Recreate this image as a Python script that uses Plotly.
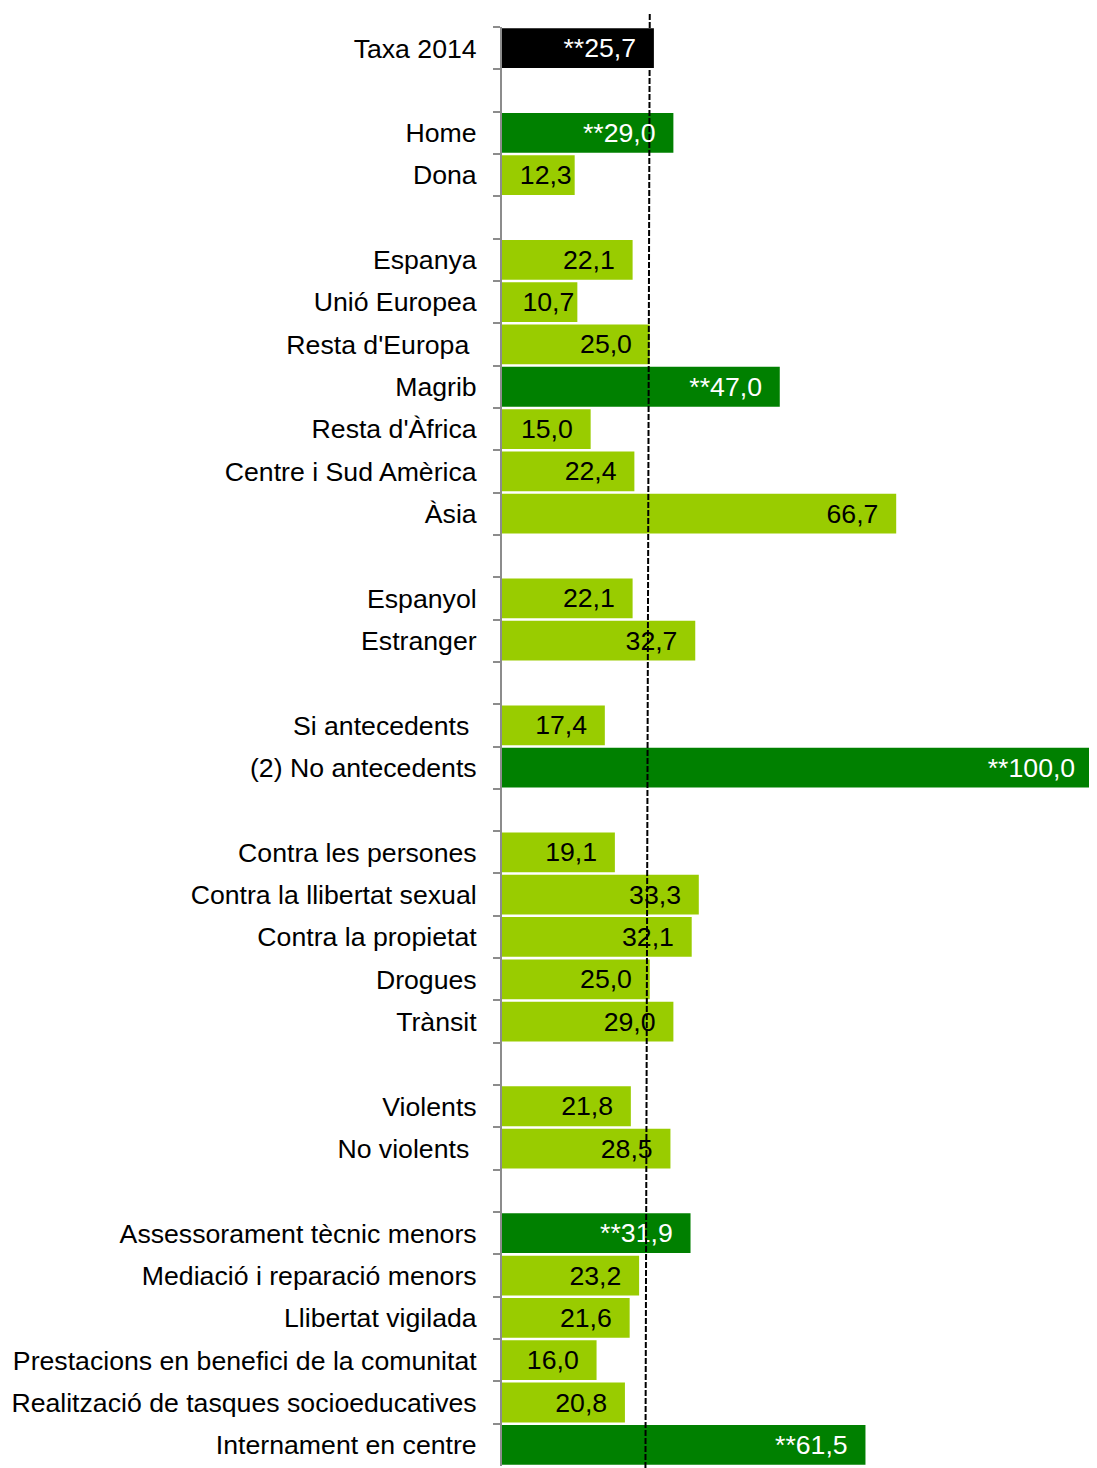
import plotly.graph_objects as go

# ---- data ----
taxa_labels = ["Taxa 2014"]
taxa_values = [25.7]

sexe_labels = ["Home", "Dona"]
sexe_values = [29.0, 12.3]

origen_labels = ["Espanya", "Unió Europea", "Resta d'Europa\u00a0", "Magrib",
                 "Resta d'Àfrica", "Centre i Sud Amèrica", "Àsia"]
origen_values = [22.1, 10.7, 25.0, 47.0, 15.0, 22.4, 66.7]

nacionalitat_labels = ["Espanyol", "Estranger"]
nacionalitat_values = [22.1, 32.7]

antecedents_labels = ["Si antecedents\u00a0", "(2) No antecedents"]
antecedents_values = [17.4, 100.0]

delicte_labels = ["Contra les persones", "Contra la llibertat sexual",
                  "Contra la propietat", "Drogues", "Trànsit"]
delicte_values = [19.1, 33.3, 32.1, 25.0, 29.0]

violencia_labels = ["Violents", "No violents\u00a0"]
violencia_values = [21.8, 28.5]

mesura_labels = ["Assessorament tècnic menors", "Mediació i reparació menors",
                 "Llibertat vigilada", "Prestacions en benefici de la comunitat",
                 "Realització de tasques socioeducatives", "Internament en centre"]
mesura_values = [31.9, 23.2, 21.6, 16.0, 20.8, 61.5]

# in the source picture the "Unió Europea" bar is drawn longer than its 10,7 label
bar_length_override = {"Unió Europea": 12.75}

# categories marked with ** (statistically significant difference)
significant = ["Taxa 2014", "Home", "Magrib", "(2) No antecedents",
               "Assessorament tècnic menors", "Internament en centre"]

# dashed reference line (slightly slanted in the original), top and bottom x values
ref_line_top = 25.0
ref_line_bottom = 24.27

groups = [
    (taxa_labels, taxa_values),
    (sexe_labels, sexe_values),
    (origen_labels, origen_values),
    (nacionalitat_labels, nacionalitat_values),
    (antecedents_labels, antecedents_values),
    (delicte_labels, delicte_values),
    (violencia_labels, violencia_values),
    (mesura_labels, mesura_values),
]

# ---- build category list with blank separator rows ----
LIGHT = "#99CC00"
DARK = "#008000"
BLACK = "#000000"

cats, xs, texts, colors, tcolors = [], [], [], [], []
for gi, (labs, vals) in enumerate(groups):
    if gi > 0:
        cats.append("\u00a0" * gi)  # unique blank category as spacer
        xs.append(None)
        texts.append("")
        colors.append(LIGHT)
        tcolors.append("black")
    for lab, v in zip(labs, vals):
        cats.append(lab)
        xs.append(bar_length_override.get(lab, v))
        s = f"{v:.1f}".replace(".", ",")
        if lab in significant:
            s = "**" + s
            colors.append(BLACK if lab == "Taxa 2014" else DARK)
            tcolors.append("white")
        else:
            colors.append(LIGHT)
            tcolors.append("black")
        pad = "" if v < 14 else "\u00a0\u00a0"
        texts.append(s + pad)

FONT = "Liberation Sans, Arial, sans-serif"
FS = 26.67

fig = go.Figure()
fig.add_trace(go.Bar(
    y=cats, x=xs, orientation="h",
    marker=dict(color=colors, line=dict(width=0)),
    text=texts, textposition="inside", insidetextanchor="end",
    textangle=0, constraintext="none",
    textfont=dict(family=FONT, size=FS, color=tcolors),
    hoverinfo="skip", showlegend=False,
))

# the page body has an 8px default margin: compensate in size and margins
W, H = 1089, 1460
L, R, T, B = 494, 4, 19, 2
plot_h = H - T - B
fig.add_shape(
    type="line", xref="x", yref="paper",
    x0=ref_line_top, y0=1 + (T - 6) / plot_h,
    x1=ref_line_bottom, y1=-(B + 2) / plot_h,
    line=dict(color="black", width=2, dash="6px,2px"),
    layer="above",
)

fig.update_layout(
    width=W, height=H,
    margin=dict(l=L, r=R, t=T, b=B, pad=0),
    paper_bgcolor="white", plot_bgcolor="white",
    bargap=0.06,
    font=dict(family=FONT, size=FS, color="black"),
    xaxis=dict(visible=False, range=[0, 100], fixedrange=True),
    yaxis=dict(
        type="category", categoryorder="array", categoryarray=cats,
        range=[len(cats) - 0.5, -0.5],
        showline=True, linecolor="#8C8C8C", linewidth=2,
        ticks="outside", ticklen=7, tickwidth=2, tickcolor="#8C8C8C",
        tickson="boundaries", showgrid=False, zeroline=False,
        tickfont=dict(family=FONT, size=FS, color="black"),
        ticklabelstandoff=18, automargin=False,
    ),
)

fig.write_html("out.html")
